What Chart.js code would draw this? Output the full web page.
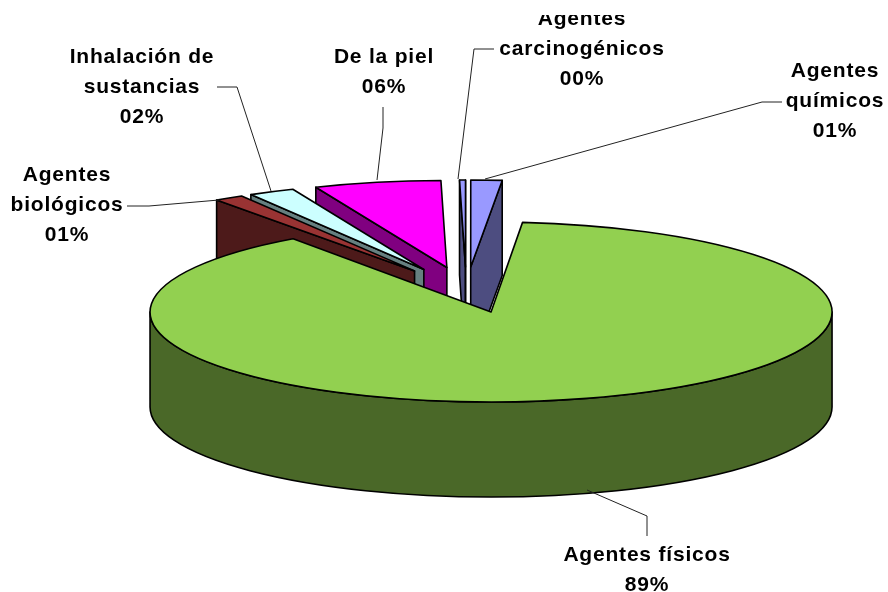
<!DOCTYPE html>
<html>
<head>
<meta charset="utf-8">
<script src="https://cdn.jsdelivr.net/npm/chart.js@4/dist/chart.umd.min.js"></script>
<style>html,body{margin:0;padding:0;background:#fff}canvas{display:block}</style>
</head>
<body>
<canvas id="c" width="888" height="592"></canvas>
<script>
const categories = ['Agentes físicos','Agentes biológicos','Inhalación de sustancias','De la piel','Agentes carcinogénicos','Agentes químicos'];
const values = [88.67,1.39,2.19,6.0,0.28,1.47];
const percentLabels = ['89%','01%','02%','06%','00%','01%'];
const topColors = ['#92D050','#993333','#CCFFFF','#FF00FF','#9999FF','#9999FF'];
const sideColors = ['#4A6828','#4D1A1A','#668080','#800080','#4D4D80','#4D4D80'];

const labelLines = [['Agentes físicos'],['Agentes','biológicos'],['Inhalación de','sustancias'],['De la piel'],['Agentes','carcinogénicos'],['Agentes','químicos']];
const labelCenterX = [647,67,142,384,582,835];
const labelFirstY = [555,175,57,57,19,71];
const leaderLines = [
  [[647,536],[647,516],[587,490]],
  [[127,206],[149,206],[219,200]],
  [[217,87],[237,87],[271,191]],
  [[383,107],[383,128],[377,180]],
  [[494,49],[474,49],[458,179]],
  [[782,102],[762,102],[485,179]]
];
const RX = 341, EXPLODE = 95, DEPTH = 95;
const CENTER_X = 466.3;
const frontView = {k:0.264, cy:287.8};
const backView = {k:0.255, cy:291.2};
const drawOrder = [5,4,3,2,1,0];

const pie3d = {
  id:'pie3d',
  beforeDatasetDraw(chart){
    const ctx = chart.ctx, arcs = chart.getDatasetMeta(0).data;
    drawOrder.forEach(i=>{
      const el = arcs[i], view = i===0?frontView:backView;
      const R = el.outerRadius;
      const sx = RX/R, sy = view.k*RX/R;
      const mid = (el.startAngle+el.endAngle)/2;
      const ex = Math.cos(mid)*EXPLODE, ey = Math.sin(mid)*EXPLODE*view.k;
      const place = s => ctx.setTransform(sx,0,0,sy,CENTER_X+ex-el.x*sx,view.cy+ey+s-el.y*sy);
      const ax = el.x, ay = el.y;
      const side = Object.create(el,{options:{value:Object.assign({},el.options,{backgroundColor:sideColors[i]})}});
      ctx.save();
      for(let s=DEPTH;s>=1;s--){ place(s); side.draw(ctx); }
      ctx.lineWidth=1.6; ctx.strokeStyle='#000'; ctx.lineJoin='round'; ctx.fillStyle=sideColors[i];
      const finish = ()=>{ctx.setTransform(1,0,0,1,0,0);ctx.fill();ctx.stroke();};
      const stroke = ()=>{ctx.setTransform(1,0,0,1,0,0);ctx.stroke();};
      // outer rim, front half
      const lo = Math.max(el.startAngle,0), hi = Math.min(el.endAngle,Math.PI);
      if(hi>lo){
        ctx.beginPath();
        place(0); ctx.arc(ax,ay,R,lo,hi);
        place(DEPTH); ctx.arc(ax,ay,R,hi,lo,true);
        ctx.closePath();
        finish();
      }
      // visible cut faces
      const cutFace = a=>{
        const px = ax+Math.cos(a)*R, py = ay+Math.sin(a)*R;
        ctx.beginPath();
        place(0); ctx.moveTo(px,py);
        place(DEPTH); ctx.lineTo(px,py);
        ctx.lineTo(ax,ay);
        place(0); ctx.lineTo(ax,ay);
        ctx.closePath();
        finish();
      };
      if(Math.cos(el.startAngle)<0) cutFace(el.startAngle);
      if(Math.cos(el.endAngle)>0) cutFace(el.endAngle);
      place(0); el.draw(ctx);
      // top face
      ctx.beginPath(); place(0); ctx.moveTo(ax,ay); ctx.arc(ax,ay,R,el.startAngle,el.endAngle); ctx.closePath(); stroke();
      ctx.restore();
    });
    return false;
  },
  afterDraw(chart){
    const ctx = chart.ctx;
    ctx.save();
    ctx.strokeStyle='#222'; ctx.lineWidth=1;
    leaderLines.forEach(p=>{
      ctx.beginPath();
      p.forEach((q,j)=> j?ctx.lineTo(q[0],q[1]):ctx.moveTo(q[0],q[1]));
      ctx.stroke();
    });
    ctx.beginPath(); ctx.rect(0,15,888,577); ctx.clip();
    ctx.fillStyle='#000'; ctx.font='bold 21px "Liberation Sans"'; ctx.letterSpacing='0.8px';
    ctx.textAlign='center'; ctx.textBaseline='middle';
    labelLines.forEach((lines,i)=>{
      const all = lines.concat(percentLabels[i]);
      all.forEach((t,j)=>ctx.fillText(t,labelCenterX[i],labelFirstY[i]+j*30));
    });
    ctx.restore();
  }
};

new Chart(document.getElementById('c'),{
  type:'pie',
  data:{labels:categories,datasets:[{data:values,backgroundColor:topColors,borderWidth:0}]},
  options:{responsive:false,animation:false,rotation:5.3,
    plugins:{legend:{display:false},tooltip:{enabled:false}},
    events:[]},
  plugins:[pie3d]
});
</script>
</body>
</html>
